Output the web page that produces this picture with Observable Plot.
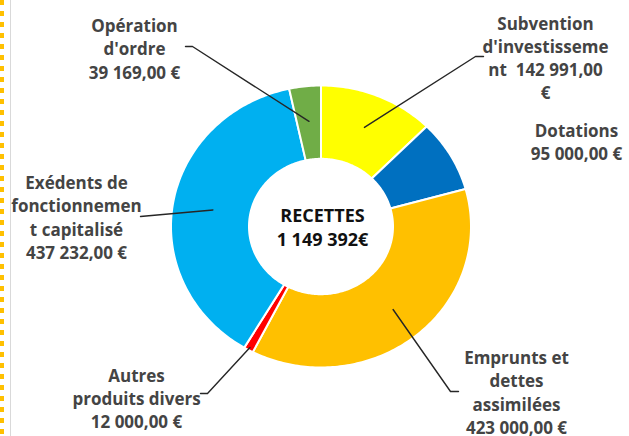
<!DOCTYPE html>
<html>
<head>
<meta charset="utf-8">
<script src="https://cdn.jsdelivr.net/npm/d3@7"></script>
<script src="https://cdn.jsdelivr.net/npm/@observablehq/plot@0.6"></script>
<style>
  html, body { margin: 0; padding: 0; background: #fff; }
  #wrap { position: relative; width: 629px; height: 436px; overflow: hidden; }
  #dots { position: absolute; left: 0; top: 0; width: 4px; height: 436px;
          background: repeating-linear-gradient(to bottom, #FFC000 0 5px, transparent 5px 11px); }
  #edge { position: absolute; left: 10px; top: 0; width: 1px; height: 436px; background: #d9d9d9; }
  #chart { position: absolute; left: 0; top: 0; }
</style>
</head>
<body>
<div id="wrap"><div id="chart"></div><div id="dots"></div><div id="edge"></div></div>
<script>
// Data (clockwise from 12 o'clock)
const names = ["Subvention", "Dotations", "Emprunts", "Autres", "Excedents", "Operation"];
const values = [142991, 95000, 423000, 12000, 437232, 39169];
const colors = ["#FFFF00", "#0070C0", "#FFC000", "#FF0000", "#00B0F0", "#70AD47"];
const labels = [
  "Subvention\nd'investisseme\nnt  142 991,00\n€",
  "Dotations\n95 000,00 €",
  "Emprunts et\ndettes\nassimilées\n423 000,00 €",
  "Autres\nproduits divers\n12 000,00 €",
  "Exédents de\nfonctionnemen\nt capitalisé\n437 232,00 €",
  "Opération\nd'ordre\n39 169,00 €"
];
const centerTitle = "RECETTES\n1 149 392€";

// Layout
const W = 629, H = 436;
const cx = 320.5, cy = 226, rx = 150, ry = 141, inner = 0.48;
const labelPos = [[545, 56.5], [576, 140.5], [516, 391], [136, 397], [76, 216], [134, 47.5]];
// leader: [elbow, end] points; null = no leader; start radius fraction
const leaders = [
  {r: 0.76, pts: [[475, 56], [483, 56]]},
  null,
  {r: 0.76, pts: [[450, 391], [458, 391]]},
  {r: 0.98, pts: [[207, 393], [200, 393]]},
  {r: 0.73, pts: [[140, 216]]},
  {r: 0.75, pts: [[192, 46], [185, 46]]}
];

const pie = d3.pie().sort(null).value(d => d)(values);
const px = (a, r) => cx + rx * r * Math.sin(a);
const py = (a, r) => cy - ry * r * Math.cos(a);

const slicePts = [];
pie.forEach((s, i) => {
  const n = Math.max(4, Math.ceil((s.endAngle - s.startAngle) * 60));
  for (let k = 0; k <= n; k++) {
    const a = s.startAngle + (s.endAngle - s.startAngle) * k / n;
    slicePts.push({name: names[i], x: px(a, 1), y: py(a, 1)});
  }
  for (let k = n; k >= 0; k--) {
    const a = s.startAngle + (s.endAngle - s.startAngle) * k / n;
    slicePts.push({name: names[i], x: px(a, inner), y: py(a, inner)});
  }
});

const leaderPts = [];
pie.forEach((s, i) => {
  const L = leaders[i];
  if (!L) return;
  const mid = (s.startAngle + s.endAngle) / 2;
  leaderPts.push({name: names[i], x: px(mid, L.r), y: py(mid, L.r)});
  L.pts.forEach(p => leaderPts.push({name: names[i], x: p[0], y: p[1]}));
});

const labelData = names.map((n, i) => ({name: n, text: labels[i], x: labelPos[i][0], y: labelPos[i][1]}));

const chart = Plot.plot({
  width: W, height: H,
  margin: 0,
  x: {domain: [0, W], range: [0, W], axis: null},
  y: {domain: [0, H], range: [0, H], axis: null},
  color: {domain: names, range: colors},
  style: {fontFamily: "'Open Sans', sans-serif", background: "transparent"},
  marks: [
    Plot.line(slicePts, {x: "x", y: "y", z: "name", fill: "name", stroke: "white", strokeWidth: 2, curve: "linear-closed"}),
    Plot.line(leaderPts, {x: "x", y: "y", z: "name", stroke: "#262626", strokeWidth: 1.4}),
    Plot.text(labelData, {x: "x", y: "y", text: "text", fill: "#444", fontSize: 17, fontWeight: "bold", lineHeight: 1.37, lineAnchor: "middle", textAnchor: "middle"}),
    Plot.text([centerTitle], {x: [cx + 1.5], y: [cy], text: d => d, fill: "#111", fontSize: 18, fontWeight: "bold", lineHeight: 1.33, lineAnchor: "middle", textAnchor: "middle"})
  ]
});
document.getElementById("chart").appendChild(chart);
</script>
</body>
</html>
